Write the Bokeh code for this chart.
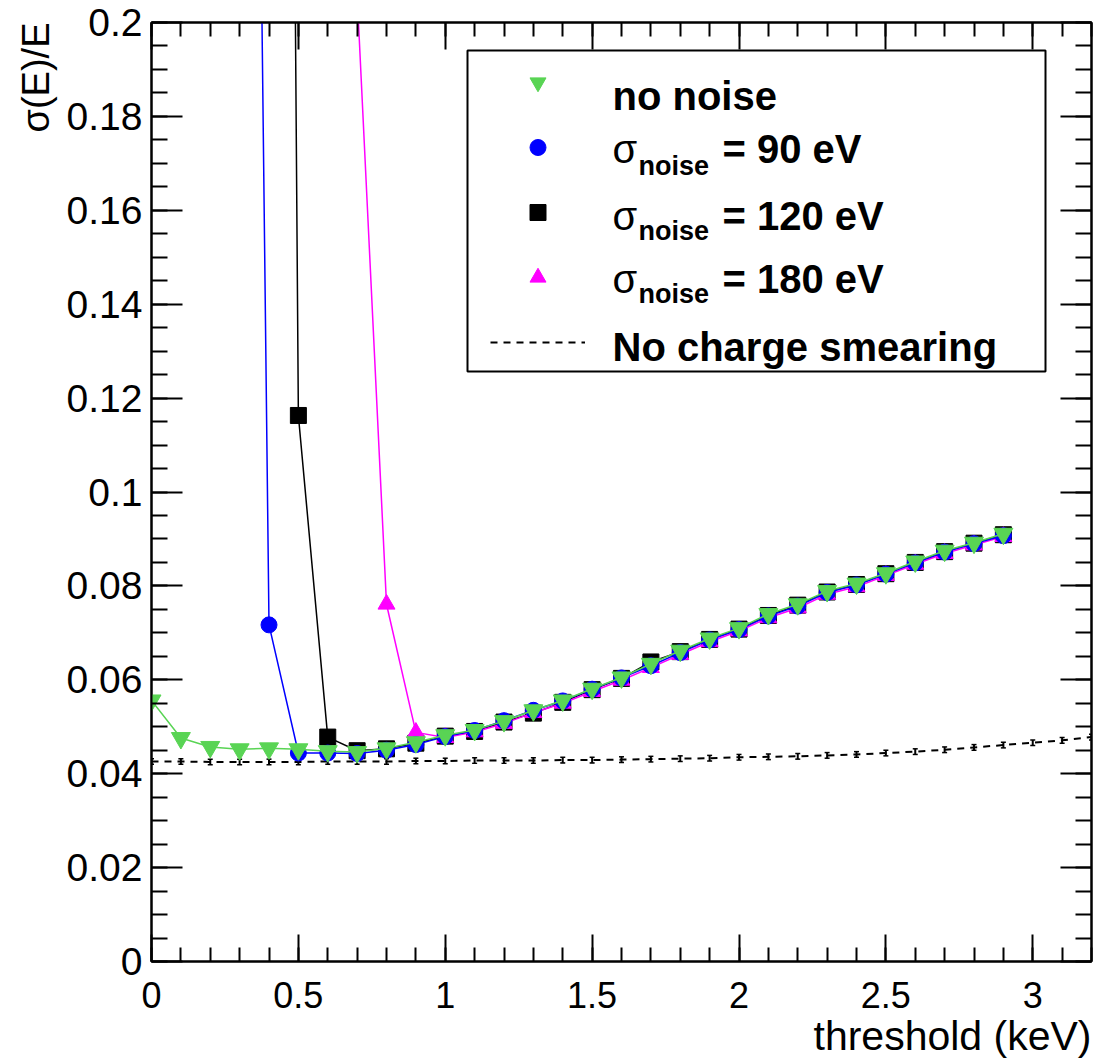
from bokeh.plotting import figure
from bokeh.models import (Range1d, LinearAxis, FixedTicker, Label, BoxAnnotation,
                          Legend, LegendItem, Title, CustomLabelingPolicy)
from bokeh.embed import file_html
from bokeh.resources import INLINE

# ---------------- data ----------------
thr_no_noise = [0.0, 0.1, 0.2, 0.3, 0.4, 0.5, 0.6, 0.7, 0.8, 0.9,
                1.0, 1.1, 1.2, 1.3, 1.4, 1.5, 1.6, 1.7, 1.8, 1.9,
                2.0, 2.1, 2.2, 2.3, 2.4, 2.5, 2.6, 2.7, 2.8, 2.9]
res_no_noise = [0.0556, 0.0476, 0.0457, 0.0452, 0.0454, 0.0452, 0.0448, 0.0446, 0.0454, 0.0467,
                0.0482, 0.0493, 0.0512, 0.0535, 0.0556, 0.0581, 0.0605, 0.0634, 0.0662, 0.0688,
                0.0710, 0.0740, 0.0761, 0.0789, 0.0805, 0.0827, 0.0852, 0.0875, 0.0892, 0.0911]

thr_90 = [0.3, 0.4, 0.5, 0.6, 0.7, 0.8, 0.9,
          1.0, 1.1, 1.2, 1.3, 1.4, 1.5, 1.6, 1.7, 1.8, 1.9,
          2.0, 2.1, 2.2, 2.3, 2.4, 2.5, 2.6, 2.7, 2.8, 2.9]
res_90 = [0.61, 0.0717, 0.0444, 0.0444, 0.0443, 0.0450, 0.0462,
          0.0479, 0.0492, 0.0513, 0.0535, 0.0555, 0.0580, 0.0604, 0.0630, 0.0658, 0.0685,
          0.0707, 0.0736, 0.0757, 0.0786, 0.0802, 0.0825, 0.0849, 0.0872, 0.0890, 0.0907]

thr_120 = [0.4, 0.5, 0.6, 0.7, 0.8, 0.9,
           1.0, 1.1, 1.2, 1.3, 1.4, 1.5, 1.6, 1.7, 1.8, 1.9,
           2.0, 2.1, 2.2, 2.3, 2.4, 2.5, 2.6, 2.7, 2.8, 2.9]
res_120 = [0.95, 0.1163, 0.0478, 0.0449, 0.0453, 0.0465,
           0.0480, 0.0490, 0.0510, 0.0529, 0.0552, 0.0579, 0.0603, 0.0638, 0.0660, 0.0686,
           0.0708, 0.0737, 0.0759, 0.0787, 0.0803, 0.0826, 0.0850, 0.0873, 0.0891, 0.0909]

thr_180 = [0.7, 0.8, 0.9,
           1.0, 1.1, 1.2, 1.3, 1.4, 1.5, 1.6, 1.7, 1.8, 1.9,
           2.0, 2.1, 2.2, 2.3, 2.4, 2.5, 2.6, 2.7, 2.8, 2.9]
res_180 = [0.206, 0.0761, 0.0488,
           0.0477, 0.0489, 0.0507, 0.0530, 0.0550, 0.0575, 0.0599, 0.0626, 0.0654, 0.0681,
           0.0704, 0.0732, 0.0753, 0.0782, 0.0798, 0.0822, 0.0846, 0.0869, 0.0887, 0.0905]

thr_no_smear = [0.0, 0.1, 0.2, 0.3, 0.4, 0.5, 0.6, 0.7, 0.8, 0.9,
                1.0, 1.1, 1.2, 1.3, 1.4, 1.5, 1.6, 1.7, 1.8, 1.9,
                2.0, 2.1, 2.2, 2.3, 2.4, 2.5, 2.6, 2.7, 2.8, 2.9,
                3.0, 3.1, 3.2]
res_no_smear = [0.0426, 0.0426, 0.0425, 0.0425, 0.0425, 0.0425, 0.0426, 0.0426, 0.0426, 0.0427,
                0.0427, 0.0428, 0.0428, 0.0428, 0.0429, 0.0429, 0.0430, 0.0431, 0.0432, 0.0433,
                0.0435, 0.0436, 0.0437, 0.0439, 0.0441, 0.0444, 0.0447, 0.0451, 0.0456, 0.0461,
                0.0466, 0.0471, 0.0478]
err_no_smear = [0.0006, 0.0006, 0.0006, 0.0006, 0.0006, 0.0006, 0.0006, 0.0006, 0.0006, 0.0006,
                0.0006, 0.0006, 0.0006, 0.0006, 0.0006, 0.0006, 0.0006, 0.0006, 0.0006, 0.0006,
                0.0006, 0.0006, 0.0006, 0.0006, 0.0006, 0.0006, 0.0006, 0.0006, 0.0006, 0.0006,
                0.0006, 0.0006, 0.0006]

x_major_ticks = [0, 0.5, 1, 1.5, 2, 2.5, 3]
x_tick_labels = ["0", "0.5", "1", "1.5", "2", "2.5", "3"]
x_minor_ticks = [round(0.1 * i, 1) for i in range(0, 33)]
y_major_ticks = [0, 0.02, 0.04, 0.06, 0.08, 0.1, 0.12, 0.14, 0.16, 0.18, 0.2]
y_tick_labels = ["0", "0.02", "0.04", "0.06", "0.08", "0.1", "0.12", "0.14", "0.16", "0.18", "0.2"]
y_minor_ticks = [round(0.005 * i, 3) for i in range(0, 41)]

GREEN = "#59d454"
BLUE = "#0000ff"
BLACK = "#000000"
MAGENTA = "#ff00ff"
FONT = "Liberation Sans"

# ---------------- figure ----------------
W, H = 1094, 1058
ML, MR, MT, MB = 151, 3, 22, 90
FW = W - ML - MR

p = figure(width=W, height=H, x_range=Range1d(0, 3.2), y_range=Range1d(0, 0.2),
           output_backend="svg", toolbar_location=None,
           min_border_left=ML, min_border_right=MR, min_border_top=MT, min_border_bottom=MB)
p.grid.visible = False
p.outline_line_color = "black"
p.outline_line_width = 2
p.background_fill_color = "white"
p.border_fill_color = "white"


def style_axis(ax, major, minor, labels, tick_major, tick_minor, font_size, standoff):
    ax.ticker = FixedTicker(ticks=major, minor_ticks=minor)
    ax.major_tick_in = tick_major
    ax.major_tick_out = 0
    ax.minor_tick_in = tick_minor
    ax.minor_tick_out = 0
    ax.axis_line_color = "black"
    ax.axis_line_width = 2
    ax.major_tick_line_color = "black"
    ax.major_tick_line_width = 2
    ax.minor_tick_line_color = "black"
    ax.minor_tick_line_width = 2
    if labels is None:
        ax.major_label_policy = CustomLabelingPolicy(code="return []")
        ax.major_label_text_font_size = "0px"
        ax.major_label_standoff = 0
    else:
        ax.major_label_overrides = {t: l for t, l in zip(major, labels)}
        ax.major_label_text_font = FONT
        ax.major_label_text_font_size = font_size
        ax.major_label_text_color = "black"
        ax.major_label_standoff = standoff


style_axis(p.xaxis[0], x_major_ticks, x_minor_ticks, x_tick_labels, 27, 14, "36px", 20)
style_axis(p.yaxis[0], y_major_ticks, y_minor_ticks, y_tick_labels, 31, 16, "39px", 9)

top_ax = LinearAxis()
style_axis(top_ax, x_major_ticks, x_minor_ticks, None, 27, 14, None, 0)
p.add_layout(top_ax, "above")
right_ax = LinearAxis()
style_axis(right_ax, y_major_ticks, y_minor_ticks, None, 31, 16, None, 0)
p.add_layout(right_ax, "right")

# axis titles (right / top aligned as in the reference)
p.add_layout(Title(text="σ(E)/E", align="right", text_font=FONT, text_font_size="38px",
                   text_font_style="normal", text_color="black", standoff=14), "left")
p.add_layout(Title(text="threshold (keV)", align="right", text_font=FONT, text_font_size="41px",
                   text_font_style="normal", text_color="black", standoff=0), "below")

# ---------------- data glyphs ----------------
r_smear = p.line(thr_no_smear, res_no_smear, line_color="black", line_width=2, line_dash="7 6")
lo = [v - e for v, e in zip(res_no_smear, err_no_smear)]
hi = [v + e for v, e in zip(res_no_smear, err_no_smear)]
p.segment(thr_no_smear, lo, thr_no_smear, hi, line_color="black", line_width=2)
p.scatter(thr_no_smear, lo, marker="dash", size=5, line_color="black", line_width=1.5)
p.scatter(thr_no_smear, hi, marker="dash", size=5, line_color="black", line_width=1.5)

p.line(thr_120, res_120, line_color=BLACK, line_width=1.5)
r_120 = p.scatter(thr_120, res_120, marker="square", size=16, fill_color=BLACK, line_color=BLACK)

p.line(thr_180, res_180, line_color=MAGENTA, line_width=1.5)
r_180 = p.scatter(thr_180, res_180, marker="triangle", size=17, fill_color=MAGENTA, line_color=MAGENTA)

p.line(thr_90, res_90, line_color=BLUE, line_width=1.5)
r_90 = p.scatter(thr_90, res_90, marker="circle", size=16, fill_color=BLUE, line_color=BLUE)

p.line(thr_no_noise, res_no_noise, line_color=GREEN, line_width=1.5)
r_nn = p.scatter(thr_no_noise, res_no_noise, marker="inverted_triangle", size=19,
                 fill_color=GREEN, line_color=GREEN)

# ---------------- legend (frame-relative screen coordinates) ----------------
box = BoxAnnotation(left=316, right=894, bottom=590, top=911,
                    left_units="screen", right_units="screen",
                    bottom_units="screen", top_units="screen",
                    fill_color="white", fill_alpha=1.0,
                    line_color="black", line_alpha=1.0, line_width=2)
p.add_layout(box)

legend = Legend(items=[LegendItem(label=" ", renderers=[r_nn]),
                       LegendItem(label=" ", renderers=[r_90]),
                       LegendItem(label=" ", renderers=[r_120]),
                       LegendItem(label=" ", renderers=[r_180]),
                       LegendItem(label=" ", renderers=[r_smear])],
                location=(339, 599), orientation="vertical", padding=0, spacing=25, margin=0,
                glyph_width=95, glyph_height=40, label_width=0, label_standoff=0,
                label_text_font_size="1px", border_line_alpha=0, background_fill_alpha=0)
p.add_layout(legend)

LX = 461
DY = 5


def txt(x, y, s, size, bold=True):
    p.add_layout(Label(x=x, y=y + DY, x_units="screen", y_units="screen", text=s,
                       text_font=FONT, text_font_size=size,
                       text_font_style="bold" if bold else "normal",
                       text_color="black", text_align="left",
                       text_baseline="alphabetic"))


txt(LX, 861, "no noise", "40px")
rows = [(808, 791, "= 90 eV"), (741, 726, "= 120 eV"), (678, 663, "= 180 eV")]
for base, sub, rest in rows:
    txt(LX, base, "σ", "40px", bold=False)
    txt(LX + 26, sub, "noise", "27px")
    txt(LX + 110, base, rest, "40px")
txt(LX, 610, "No charge smearing", "40px")

open("out.html", "w").write(file_html(p, INLINE))
